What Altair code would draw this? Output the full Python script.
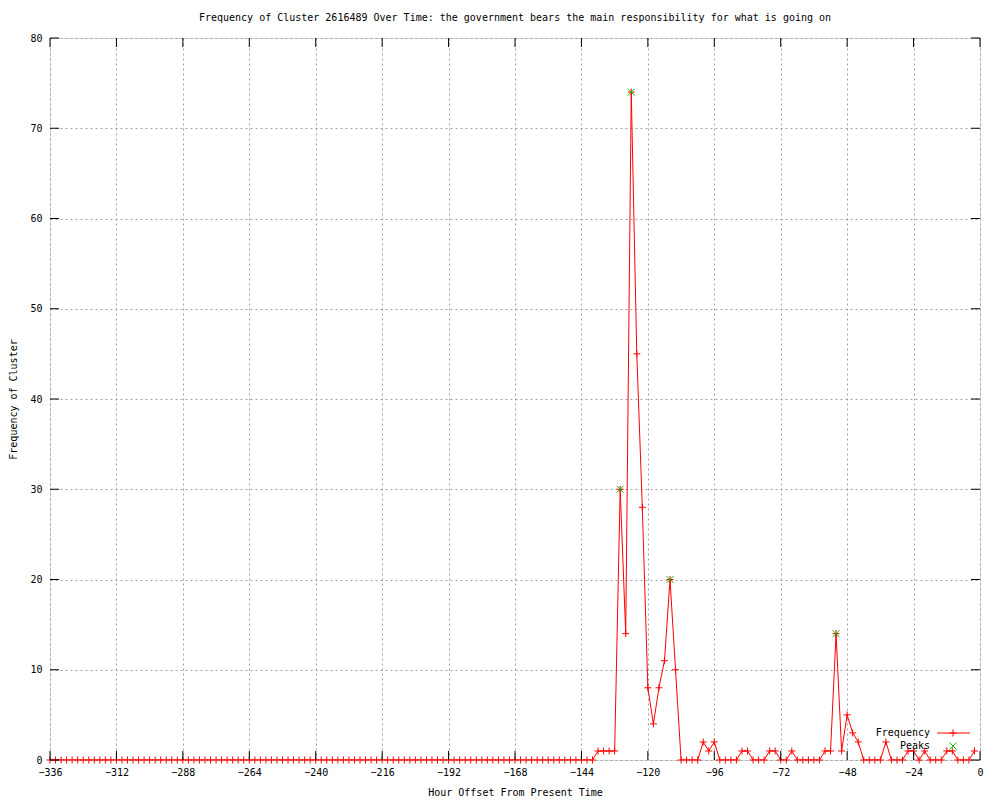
import altair as alt
import pandas as pd

# ---- data ----
hours = list(range(-336, 0, 2))
freq_zero_part = [
    0, 0, 0, 0, 0, 0, 0, 0, 0, 0, 0, 0, 0, 0, 0, 0, 0, 0, 0, 0,
    0, 0, 0, 0, 0, 0, 0, 0, 0, 0, 0, 0, 0, 0, 0, 0, 0, 0, 0, 0,
    0, 0, 0, 0, 0, 0, 0, 0, 0, 0, 0, 0, 0, 0, 0, 0, 0, 0, 0, 0,
    0, 0, 0, 0, 0, 0, 0, 0, 0, 0, 0, 0, 0, 0, 0, 0, 0, 0, 0, 0,
    0, 0, 0, 0, 0, 0, 0, 0, 0, 0, 0, 0, 0, 0, 0, 0, 0, 0, 0,
]
freq_active_part = [
    1, 1, 1, 1, 30, 14, 74, 45, 28, 8,
    4, 8, 11, 20, 10, 0, 0, 0, 0, 2,
    1, 2, 0, 0, 0, 0, 1, 1, 0, 0,
    0, 1, 1, 0, 0, 1, 0, 0, 0, 0,
    0, 1, 1, 14, 1, 5, 3, 2, 0, 0,
    0, 0, 2, 0, 0, 0, 1, 1, 0, 1,
    0, 0, 0, 1, 1, 0, 0, 0, 1,
]
frequency = freq_zero_part + freq_active_part

peak_hours = [-130, -126, -112, -52]
peak_values = [30, 74, 20, 14]

x_ticks = [-336, -312, -288, -264, -240, -216, -192, -168, -144, -120, -96, -72, -48, -24, 0]
y_ticks = [0, 10, 20, 30, 40, 50, 60, 70, 80]

title_text = "Frequency of Cluster 2616489 Over Time: the government bears the main responsibility for what is going on"
x_title = "Hour Offset From Present Time"
y_title = "Frequency of Cluster"
legend_labels = ["Frequency", "Peaks"]

# ---- tables ----
df = pd.DataFrame({"hour": hours, "freq": frequency})
peaks = pd.DataFrame({"hour": peak_hours, "freq": peak_values})
xt = pd.DataFrame({"hour": x_ticks})
yt = pd.DataFrame({"freq": y_ticks})

FONT = "DejaVu Sans Mono"
W, H = 930, 722
RED = "#ff0000"
GREEN = "#00c000"
PLUS = "M-1,0L1,0M0,-1L0,1"
XSH = "M-1,-1L1,1M-1,1L1,-1"

xscale = alt.Scale(domain=[-336, 0], nice=False, zero=False)
yscale = alt.Scale(domain=[0, 80], nice=False)

xaxis = alt.Axis(values=x_ticks, title=x_title, grid=True, gridDash=[2, 3],
                 gridColor="#a0a0a0", ticks=False, domain=False,
                 labelFont=FONT, labelFontSize=10, labelColor="black",
                 labelPadding=7, titleFont=FONT, titleFontSize=10,
                 titleFontWeight="normal", titleColor="black", titlePadding=10,
                 labelFlush=False)
yaxis = alt.Axis(values=y_ticks, title=y_title, grid=True, gridDash=[2, 3],
                 gridColor="#a0a0a0", ticks=False, domain=False,
                 labelFont=FONT, labelFontSize=10, labelColor="black",
                 labelPadding=8, titleFont=FONT, titleFontSize=10,
                 titleFontWeight="normal", titleColor="black", titlePadding=11,
                 labelFlush=False)

base = alt.Chart(df)

line = base.mark_line(color=RED, strokeWidth=1, clip=True).encode(
    x=alt.X("hour:Q", scale=xscale, axis=xaxis),
    y=alt.Y("freq:Q", scale=yscale, axis=yaxis),
)
pts = base.mark_point(shape=PLUS, size=49, color=RED, filled=False, strokeWidth=1, opacity=1).encode(
    x=alt.X("hour:Q", title=x_title),
    y=alt.Y("freq:Q", title=y_title),
)
peak_pts = alt.Chart(peaks).mark_point(shape=XSH, size=49, color=GREEN, filled=False,
                                       strokeWidth=1, opacity=1).encode(
    x=alt.X("hour:Q", title=x_title),
    y=alt.Y("freq:Q", title=y_title),
)

# inward ticks (gnuplot style, mirrored)
xt_bottom = alt.Chart(xt).mark_rule(color="black", strokeWidth=1).encode(
    x=alt.X("hour:Q", title=x_title), y=alt.value(H), y2=alt.value(H - 9))
xt_top = alt.Chart(xt).mark_rule(color="black", strokeWidth=1).encode(
    x=alt.X("hour:Q", title=x_title), y=alt.value(0), y2=alt.value(9))
yt_left = alt.Chart(yt).mark_rule(color="black", strokeWidth=1).encode(
    y=alt.Y("freq:Q", title=y_title), x=alt.value(0), x2=alt.value(9))
yt_right = alt.Chart(yt).mark_rule(color="black", strokeWidth=1).encode(
    y=alt.Y("freq:Q", title=y_title), x=alt.value(W), x2=alt.value(W - 9))

# legend
leg = pd.DataFrame({"label": legend_labels})
leg_text1 = alt.Chart(leg).transform_filter(alt.datum.label == legend_labels[0]).mark_text(
    font=FONT, fontSize=10, align="right", baseline="middle", color="black").encode(
    text="label:N", x=alt.value(880), y=alt.value(695))
leg_text2 = alt.Chart(leg).transform_filter(alt.datum.label == legend_labels[1]).mark_text(
    font=FONT, fontSize=10, align="right", baseline="middle", color="black").encode(
    text="label:N", x=alt.value(880), y=alt.value(708))
leg_line = alt.Chart(leg).transform_filter(alt.datum.label == legend_labels[0]).mark_rule(
    color=RED, strokeWidth=1).encode(x=alt.value(887), x2=alt.value(920), y=alt.value(695))
leg_plus = alt.Chart(leg).transform_filter(alt.datum.label == legend_labels[0]).mark_point(
    shape=PLUS, size=49, color=RED, filled=False, strokeWidth=1, opacity=1).encode(
    x=alt.value(903), y=alt.value(695))
leg_x = alt.Chart(leg).transform_filter(alt.datum.label == legend_labels[1]).mark_point(
    shape=XSH, size=49, color=GREEN, filled=False, strokeWidth=1, opacity=1).encode(
    x=alt.value(903), y=alt.value(708))

chart = alt.layer(
    line, pts, peak_pts, xt_bottom, xt_top, yt_left, yt_right,
    leg_text1, leg_text2, leg_line, leg_plus, leg_x,
).properties(
    width=W, height=H,
    title=alt.TitleParams(text=title_text, font=FONT, fontSize=10, fontWeight="normal",
                          color="black", anchor="middle", frame="group", offset=10),
    padding={"left": 42, "top": 30, "right": 10, "bottom": 40},
    autosize=alt.AutoSizeParams(type="none"),
).configure_view(stroke="black", strokeWidth=1).configure(background="white")

chart.save("out.html", embed_options={"renderer": "svg", "actions": False})
